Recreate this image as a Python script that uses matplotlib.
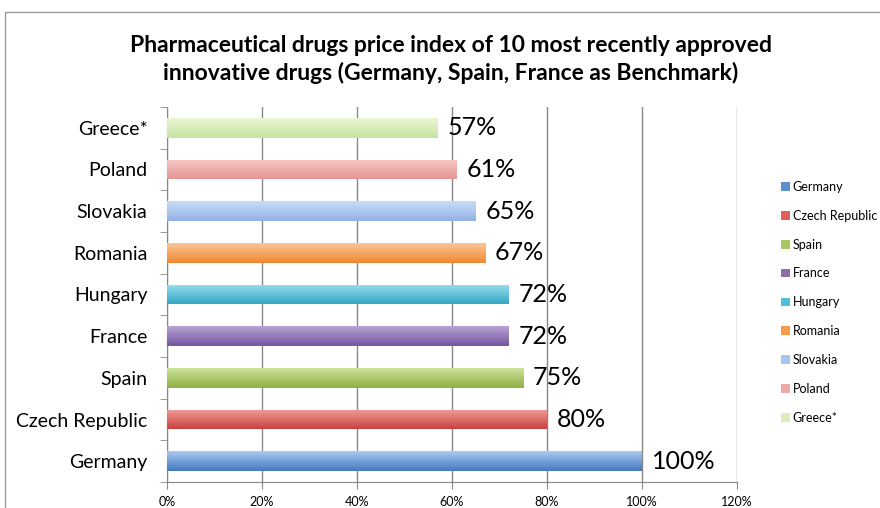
import matplotlib.pyplot as plt
import numpy as np
from matplotlib.patches import Rectangle, Patch
from matplotlib.colors import LinearSegmentedColormap, to_rgb

plt.rcParams['font.family'] = ['Lato', 'DejaVu Sans']

countries = ['Germany', 'Czech Republic', 'Spain', 'France', 'Hungary',
             'Romania', 'Slovakia', 'Poland', 'Greece*']
values = [1.00, 0.80, 0.75, 0.72, 0.72, 0.67, 0.65, 0.61, 0.57]
labels = ['100%', '80%', '75%', '72%', '72%', '67%', '65%', '61%', '57%']
colors = ['#5b8fd0', '#e0605c', '#a6c65e', '#8c6eb0', '#4fbfd8',
          '#f79b4a', '#a9c6f0', '#f0a9a9', '#d8efb8']
light = ['#a9c9f2', '#f29c99', '#cde39a', '#b9a2d4', '#95e0ef',
         '#fbc596', '#c9dcf9', '#f8c8c6', '#e9f8d2']
dark = ['#4479bd', '#c9423f', '#8eb045', '#7256a0', '#35a6c3',
        '#ef8a30', '#93b3e3', '#e39795', '#c6e3a1']

fig = plt.figure(figsize=(8.8, 5.08), dpi=100)
# outer chart frame
fig.patches.append(Rectangle((5 / 880, -0.1), 2, (1 - 12 / 508) + 0.1,
                             transform=fig.transFigure, fill=False,
                             edgecolor='#999999', lw=1))

ax = fig.add_axes([167 / 880, 1 - 482 / 508, 570 / 880, 375 / 508])
y = np.arange(len(countries))
bars = ax.barh(y, values, height=0.47, color='none', zorder=3)
grad = np.linspace(0, 1, 50).reshape(-1, 1)
for b, lo, hi in zip(bars, light, dark):
    cm = LinearSegmentedColormap.from_list('g', [to_rgb(hi), to_rgb(lo)])
    x0, y0 = b.get_x(), b.get_y()
    im = ax.imshow(grad, cmap=cm, aspect='auto', origin='lower',
                   extent=[x0, x0 + b.get_width(), y0, y0 + b.get_height()],
                   zorder=3)
    im.set_clip_path(b)
for yi, v, lab in zip(y, values, labels):
    ax.text(v + 0.02, yi, lab, va='center', ha='left', fontsize=18, zorder=4)

ax.set_xlim(0, 1.2)
ax.set_ylim(-0.5, len(countries) - 0.5)
ax.set_xticks(np.arange(0, 1.21, 0.2))
ax.set_xticklabels([f'{int(round(t * 100))}%' for t in np.arange(0, 1.21, 0.2)],
                   fontsize=9)
ax.set_yticks(y)
ax.set_yticklabels(countries, fontsize=14)
ax.tick_params(axis='y', which='major', length=0, pad=14)
ax.set_yticks(np.arange(-0.5, len(countries), 1), minor=True)
ax.tick_params(axis='y', which='minor', length=5, color='#888888', direction='out')
ax.tick_params(axis='x', length=5, color='#888888', pad=5)
ax.grid(axis='x', color='#888888', lw=1, zorder=0)
for s in ['top', 'right']:
    ax.spines[s].set_visible(False)
for s in ['left', 'bottom']:
    ax.spines[s].set_color('#888888')

handles = [Patch(facecolor=c, label=n) for c, n in zip(colors, countries)]
fig.legend(handles=handles, loc='center left', bbox_to_anchor=(0.875, 0.405),
           frameon=False, fontsize=9, handlelength=0.7, handleheight=0.7,
           handletextpad=0.2, labelspacing=1.35)

fig.text(0.512, 1 - 45 / 508, 'Pharmaceutical drugs price index of 10 most recently approved',
         ha='center', va='center', fontsize=16.5, fontweight='bold')
fig.text(0.512, 1 - 73 / 508, 'innovative drugs (Germany, Spain, France as Benchmark)',
         ha='center', va='center', fontsize=16.5, fontweight='bold')

fig.savefig('out.png', dpi=100)
